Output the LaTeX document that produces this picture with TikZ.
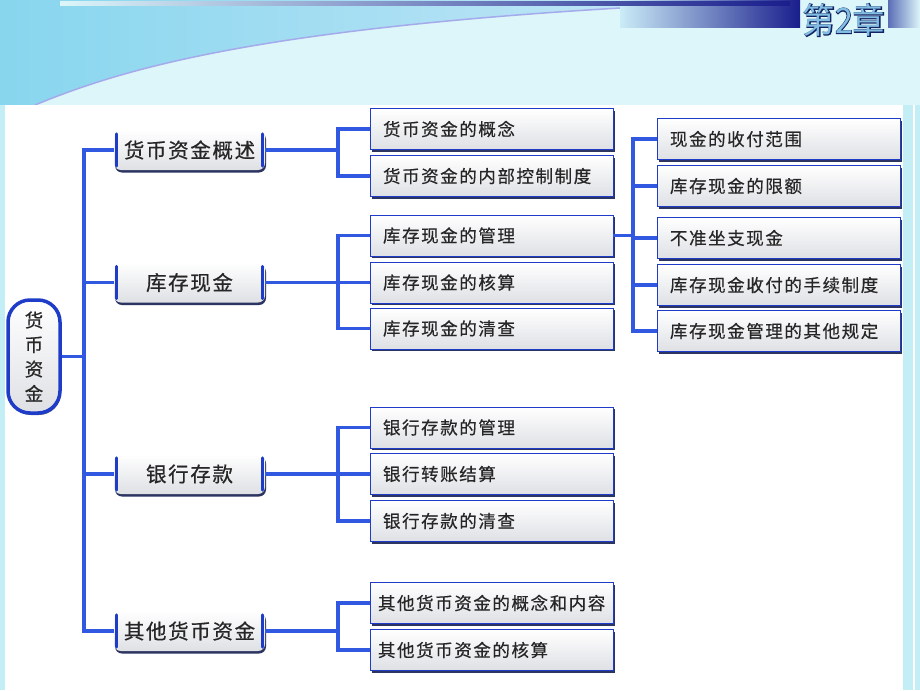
\documentclass[tikz,border=0pt]{standalone}
\usepackage{fontspec}
\newfontfamily\cjk[FakeBold=0.5]{Noto Sans CJK SC}
\newfontfamily\cjksp[LetterSpace=9,FakeBold=0.5]{Noto Sans CJK SC}
\newfontfamily\cjkbig[LetterSpace=8,FakeBold=0.6]{Noto Sans CJK SC}
\newfontfamily\cjkbold[FakeBold=4]{Noto Sans CJK SC}
\newfontfamily\cjkplain{Noto Sans CJK SC}
\usetikzlibrary{shadows,calc}
\definecolor{lnblue}{RGB}{48,88,225}
\definecolor{edgeblue}{RGB}{30,60,200}
\definecolor{navy}{RGB}{22,30,80}
\definecolor{bgcyan}{RGB}{220,246,249}
\definecolor{deepcyan}{RGB}{135,214,238}
\definecolor{softblue}{RGB}{190,228,246}
\definecolor{curveline}{RGB}{165,170,235}
\definecolor{bandnavy}{RGB}{25,30,140}
\definecolor{sidecyan}{RGB}{195,238,246}
\definecolor{boxgray}{RGB}{222,224,228}
\definecolor{chapfill}{RGB}{130,190,225}
\definecolor{chapline}{RGB}{20,35,100}
\begin{document}
\begin{tikzpicture}[x=1pt,y=-1pt,
  conn/.style={draw=lnblue,line width=3.2pt,line join=miter},
  leaf/.style={rectangle,minimum width=243pt,minimum height=41pt,inner xsep=13pt,
     text width=217pt,align=left,draw=edgeblue,line width=0.9pt,
     top color=white,bottom color=boxgray,
     drop shadow={shadow xshift=1.5pt,shadow yshift=-2pt,fill=navy,opacity=0.9},
     font=\cjksp\fontsize{17.5}{17.5}\selectfont,text=black!85},
  topic/.style={rectangle,rounded corners=7pt,minimum width=151pt,minimum height=40pt,
     top color=white,bottom color=boxgray,draw=none,
     drop shadow={shadow xshift=1pt,shadow yshift=-2.5pt,fill=navy,opacity=0.9},
     font=\cjkbig\fontsize{20.5}{20.5}\selectfont,text=black!85},
  topicedge/.style={draw=edgeblue,line width=3pt,line cap=round},
  rootbox/.style={rectangle,rounded corners=22pt,minimum width=52pt,minimum height=113pt,
     draw=edgeblue,line width=3.5pt,top color=white,bottom color=boxgray,
     drop shadow={shadow xshift=1pt,shadow yshift=-2pt,fill=navy,opacity=0.7},
     font=\cjk\fontsize{18.5}{24.5}\selectfont,align=center,text=black!85},
  chapstyle/.style={inner sep=0pt,xscale=0.92}
]
% ---------- background ----------
\fill[bgcyan] (0,0) rectangle (920,690);
\shade[left color=deepcyan,right color=softblue]
  (0,0) -- (0,105) -- (35,105) .. controls (120,70) and (250,30) .. (620,8) -- (620,0) -- cycle;
\draw[curveline,line width=1.5pt] (35,105) .. controls (120,70) and (250,30) .. (620,8);
\shade[left color=bgcyan!40!softblue,right color=bandnavy] (620,0) rectangle (800,27);
\shade[left color=bgcyan,right color=bandnavy] (60,1) rectangle (790,5);
\shade[left color=bandnavy!60!softblue,right color=bgcyan] (888,0) rectangle (920,27);
\fill[sidecyan] (903,105) rectangle (920,690);
\draw[white,line width=1.5pt] (914,105) -- (914,690);
\fill[sidecyan] (0,105) rectangle (5,690);
\fill[white] (5,105) rectangle (903,690);
\node[chapstyle,font=\cjkbold\fontsize{35}{35}\selectfont,text=chapline] (chapA) at (844,20) {第2章};
\node[chapstyle,font=\cjkplain\fontsize{35}{35}\selectfont,text=chapfill] (chapB) at (844,20) {第2章};

% ---------- nodes ----------
\node[rootbox] (root) at (34,356.5) {货\\币\\资\\金};

\node[topic] (ta) at (189.5,150) {货币资金概述};
\node[topic] (tb) at (189.5,282.5) {库存现金};
\node[topic] (tc) at (189.5,474) {银行存款};
\node[topic] (td) at (189.5,631) {其他货币资金};

\node[leaf] (a1) at (491.5,129) {货币资金的概念};
\node[leaf] (a2) at (491.5,176) {货币资金的内部控制制度};
\node[leaf] (b1) at (491.5,235.5) {库存现金的管理};
\node[leaf] (b2) at (491.5,282.5) {库存现金的核算};
\node[leaf] (b3) at (491.5,328.5) {库存现金的清查};
\node[leaf] (c1) at (491.5,427.5) {银行存款的管理};
\node[leaf] (c2) at (491.5,474) {银行转账结算};
\node[leaf] (c3) at (491.5,521) {银行存款的清查};
\node[leaf,inner xsep=8pt,text width=227pt] (d1) at (491.5,603) {其他货币资金的概念和内容};
\node[leaf,inner xsep=8pt,text width=227pt] (d2) at (491.5,650) {其他货币资金的核算};

\node[leaf] (e1) at (778.5,139) {现金的收付范围};
\node[leaf] (e2) at (778.5,186) {库存现金的限额};
\node[leaf] (e3) at (778.5,238) {不准坐支现金};
\node[leaf] (e4) at (778.5,285) {库存现金收付的手续制度};
\node[leaf] (e5) at (778.5,331) {库存现金管理的其他规定};

% ---------- connectors ----------
\coordinate (trunkx) at (84,0);
\coordinate (bx) at (338,0);
\coordinate (cx) at (633,0);

\draw[conn] (root.east) -- (root.east -| trunkx);
\draw[conn] (ta.west) -- (ta.west -| trunkx) -- (td.west -| trunkx) -- (td.west);
\draw[conn] (tb.west -| trunkx) -- (tb.west);
\draw[conn] (tc.west -| trunkx) -- (tc.west);

\draw[conn] (ta.east) -- (ta.east -| bx);
\draw[conn] (a1.west) -- (a1.west -| bx) -- (a2.west -| bx) -- (a2.west);

\draw[conn] (tb.east) -- (tb.east -| bx);
\draw[conn] (b1.west) -- (b1.west -| bx) -- (b3.west -| bx) -- (b3.west);
\draw[conn] (b2.west -| bx) -- (b2.west);

\draw[conn] (tc.east) -- (tc.east -| bx);
\draw[conn] (c1.west) -- (c1.west -| bx) -- (c3.west -| bx) -- (c3.west);
\draw[conn] (c2.west -| bx) -- (c2.west);

\draw[conn] (td.east) -- (td.east -| bx);
\draw[conn] (d1.west) -- (d1.west -| bx) -- (d2.west -| bx) -- (d2.west);

\draw[conn] (b1.east) -- (b1.east -| cx);
\draw[conn] (e1.west) -- (e1.west -| cx) -- (e5.west -| cx) -- (e5.west);
\draw[conn] (e2.west -| cx) -- (e2.west);
\draw[conn] (e3.west -| cx) -- (e3.west);
\draw[conn] (e4.west -| cx) -- (e4.west);

% ---------- topic side edges ----------
\foreach \t in {ta,tb,tc,td}{
  \draw[topicedge] ([xshift=2.5pt,yshift=-4pt]\t.north west) -- ([xshift=2.5pt,yshift=4pt]\t.south west);
  \draw[topicedge] ([xshift=-2.5pt,yshift=-4pt]\t.north east) -- ([xshift=-2.5pt,yshift=4pt]\t.south east);
}
\end{tikzpicture}
\end{document}
